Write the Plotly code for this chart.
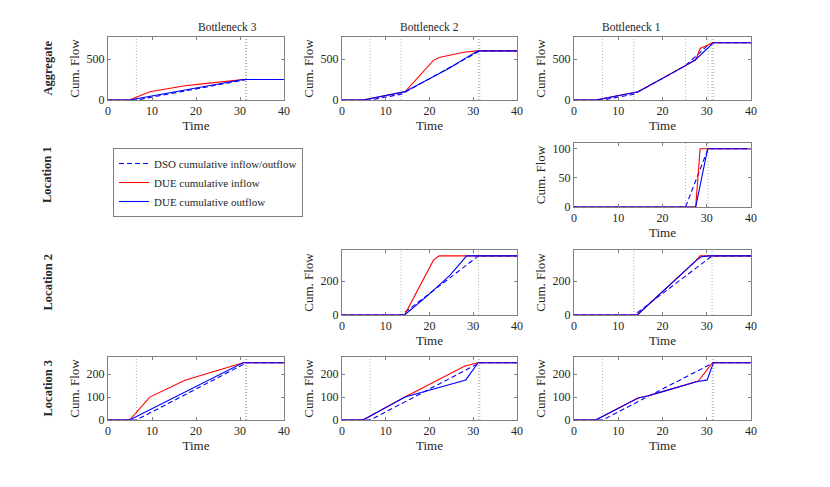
import plotly.graph_objects as go

# ---------------- data ----------------
col_titles = ["Bottleneck 3", "Bottleneck 2", "Bottleneck 1"]
row_titles = ["Aggregate", "Location 1", "Location 2", "Location 3"]
x_ticks = [0, 10, 20, 30, 40]

# Aggregate, Bottleneck 3
agg_b3_red_t = [0, 4.9, 9.5, 17.5, 22, 28.5, 30.7, 40]
agg_b3_red_v = [0, 0, 100, 174, 200, 238, 250, 250]
agg_b3_blue_t = [0, 4.9, 30.7, 40]
agg_b3_blue_v = [0, 0, 250, 250]
agg_b3_dso_t = [0, 6.45, 31.5, 40]
agg_b3_dso_v = [0, 0, 250, 250]
agg_b3_vlines = [6.45, 31.25, 31.5]

# Aggregate, Bottleneck 2
agg_b2_red_t = [0, 4.8, 14.4, 20.9, 22.2, 28.1, 31.1, 40]
agg_b2_red_v = [0, 0, 100, 485, 520, 586, 600, 600]
agg_b2_blue_t = [0, 4.8, 14.4, 19.7, 24.7, 28.3, 31.1, 40]
agg_b2_blue_v = [0, 0, 102, 250, 395, 515, 600, 600]
agg_b2_dso_t = [0, 6.45, 13.6, 31.2, 31.5, 40]
agg_b2_dso_v = [0, 0, 72, 597, 600, 600]
agg_b2_vlines = [6.45, 13.5, 31.2, 31.5]

# Aggregate, Bottleneck 1
agg_b1_red_t = [0, 4.9, 14.5, 20.2, 25.2, 27.5, 28.5, 29.5, 31.3, 40]
agg_b1_red_v = [0, 0, 100, 265, 420, 488, 630, 655, 700, 700]
agg_b1_blue_t = [0, 4.9, 14.5, 20.2, 25.2, 27.5, 29.5, 31.5, 40]
agg_b1_blue_v = [0, 0, 100, 265, 420, 495, 600, 700, 700]
agg_b1_dso_t = [0, 6.45, 13.6, 25.2, 30.3, 31.2, 31.5, 40]
agg_b1_dso_v = [0, 0, 72, 420, 672, 697, 700, 700]
agg_b1_vlines = [6.45, 13.5, 25.2, 30.3, 31.2, 31.5]

# Location 1, Bottleneck 1
l1_b1_red_t = [0, 27.5, 28.5, 40]
l1_b1_red_v = [0, 0, 100, 100]
l1_b1_blue_t = [0, 27.5, 30.2, 40]
l1_b1_blue_v = [0, 0, 100, 100]
l1_dso_t = [0, 25.2, 30.3, 40]
l1_dso_v = [0, 0, 100, 100]
l1_vlines = [25.2, 30.3]

# Location 2, Bottleneck 2
l2_b2_red_t = [0, 14.3, 20.9, 22.2, 40]
l2_b2_red_v = [0, 0, 325, 350, 350]
l2_b2_blue_t = [0, 14.3, 19.7, 24.7, 28.5, 40]
l2_b2_blue_v = [0, 0, 118, 236, 350, 350]
# Location 2, Bottleneck 1
l2_b1_red_t = [0, 14.3, 27.5, 28.5, 40]
l2_b1_red_v = [0, 0, 320, 350, 350]
l2_b1_blue_t = [0, 14.3, 27.7, 28.8, 30.7, 40]
l2_b1_blue_v = [0, 0, 325, 345, 350, 350]
l2_dso_t = [0, 13.6, 31.2, 40]
l2_dso_v = [0, 0, 350, 350]
l2_vlines = [13.5, 31.2]

# Location 3, Bottleneck 3
l3_b3_red_t = [0, 4.9, 9.5, 17.5, 22, 28.5, 30.7, 40]
l3_b3_red_v = [0, 0, 100, 174, 200, 238, 250, 250]
l3_b3_blue_t = [0, 4.9, 30.7, 40]
l3_b3_blue_v = [0, 0, 250, 250]
# Location 3, Bottleneck 2
l3_b2_red_t = [0, 4.8, 14.4, 20, 28.1, 31.1, 40]
l3_b2_red_v = [0, 0, 100, 155, 236, 250, 250]
l3_b2_blue_t = [0, 4.8, 14.4, 19.7, 28.3, 31.1, 40]
l3_b2_blue_v = [0, 0, 100, 129, 175, 250, 250]
# Location 3, Bottleneck 1
l3_b1_red_t = [0, 4.9, 14.5, 16.8, 20.2, 28.1, 31.3, 40]
l3_b1_red_v = [0, 0, 96, 106, 125, 170, 250, 250]
l3_b1_blue_t = [0, 4.9, 14.5, 16.8, 20.2, 27.7, 30.1, 31.5, 40]
l3_b1_blue_v = [0, 0, 96, 106, 125, 167, 175, 250, 250]
l3_dso_t = [0, 6.45, 31.5, 40]
l3_dso_v = [0, 0, 250, 250]
l3_vlines = [6.45, 31.25, 31.5]

agg_yrange = [0, 770]
agg_yticks = [0, 500]
l1_yrange = [0, 110]
l1_yticks = [0, 50, 100]
l2_yrange = [0, 385]
l2_yticks = [0, 200]
l3_yrange = [0, 275]
l3_yticks = [0, 100, 200]

legend_names = ["DSO cumulative inflow/outflow", "DUE cumulative inflow", "DUE cumulative outflow"]

# ---------------- layout geometry ----------------
W, H = 830, 487
OFF = 8  # page body margin offset
col_px = [(108, 284), (342, 517), (574, 751)]
row_px = [(37, 100), (143, 207), (250, 315), (357, 420)]


def px_x(p):
    return (p - OFF) / W


def px_y(p):
    return 1 - (p - OFF) / H


panels = [
    (0, 0, (agg_b3_dso_t, agg_b3_dso_v), (agg_b3_red_t, agg_b3_red_v), (agg_b3_blue_t, agg_b3_blue_v), agg_b3_vlines, agg_yrange, agg_yticks),
    (0, 1, (agg_b2_dso_t, agg_b2_dso_v), (agg_b2_red_t, agg_b2_red_v), (agg_b2_blue_t, agg_b2_blue_v), agg_b2_vlines, agg_yrange, agg_yticks),
    (0, 2, (agg_b1_dso_t, agg_b1_dso_v), (agg_b1_red_t, agg_b1_red_v), (agg_b1_blue_t, agg_b1_blue_v), agg_b1_vlines, agg_yrange, agg_yticks),
    (1, 2, (l1_dso_t, l1_dso_v), (l1_b1_red_t, l1_b1_red_v), (l1_b1_blue_t, l1_b1_blue_v), l1_vlines, l1_yrange, l1_yticks),
    (2, 1, (l2_dso_t, l2_dso_v), (l2_b2_red_t, l2_b2_red_v), (l2_b2_blue_t, l2_b2_blue_v), l2_vlines, l2_yrange, l2_yticks),
    (2, 2, (l2_dso_t, l2_dso_v), (l2_b1_red_t, l2_b1_red_v), (l2_b1_blue_t, l2_b1_blue_v), l2_vlines, l2_yrange, l2_yticks),
    (3, 0, (l3_dso_t, l3_dso_v), (l3_b3_red_t, l3_b3_red_v), (l3_b3_blue_t, l3_b3_blue_v), l3_vlines, l3_yrange, l3_yticks),
    (3, 1, (l3_dso_t, l3_dso_v), (l3_b2_red_t, l3_b2_red_v), (l3_b2_blue_t, l3_b2_blue_v), l3_vlines, l3_yrange, l3_yticks),
    (3, 2, (l3_dso_t, l3_dso_v), (l3_b1_red_t, l3_b1_red_v), (l3_b1_blue_t, l3_b1_blue_v), l3_vlines, l3_yrange, l3_yticks),
]

FONT = "Liberation Serif"
RED = "#ff0000"
BLUE = "#0000ff"
AXC = "#808080"
TXT = "#262626"

fig = go.Figure()
shapes = []
layout_axes = {}

for i, (r, c, dso, red, blue, vl, yr, yt) in enumerate(panels):
    n = i + 1
    xs = "" if n == 1 else str(n)
    xa, ya = "x" + xs, "y" + xs
    first = (i == 0)
    fig.add_trace(go.Scatter(x=dso[0], y=dso[1], mode="lines", xaxis=xa, yaxis=ya,
                             line=dict(color=BLUE, width=1.1, dash="5px,3px"),
                             name=legend_names[0], showlegend=first, legendgroup="dso"))
    fig.add_trace(go.Scatter(x=red[0], y=red[1], mode="lines", xaxis=xa, yaxis=ya,
                             line=dict(color=RED, width=1.1),
                             name=legend_names[1], showlegend=first, legendgroup="red"))
    fig.add_trace(go.Scatter(x=blue[0], y=blue[1], mode="lines", xaxis=xa, yaxis=ya,
                             line=dict(color=BLUE, width=1.1),
                             name=legend_names[2], showlegend=first, legendgroup="blue"))
    for v in vl:
        shapes.append(dict(type="line", xref=xa, yref=ya + " domain", x0=v, x1=v, y0=0, y1=1,
                           line=dict(color="#b4b4b4", width=1, dash="1px,2px"), layer="below"))
    x0, x1 = col_px[c]
    y0, y1 = row_px[r]
    common = dict(showline=True, linecolor=AXC, linewidth=1, mirror="ticks",
                  ticks="inside", ticklen=3, tickcolor=AXC, showgrid=False, zeroline=False,
                  automargin=False,
                  tickfont=dict(family=FONT, size=12, color=TXT))
    layout_axes["xaxis" + xs] = dict(domain=[px_x(x0), px_x(x1)], anchor=ya, range=[0, 40],
                                     tickvals=x_ticks,
                                     title=dict(text="Time", font=dict(family=FONT, size=13, color=TXT), standoff=2),
                                     **common)
    layout_axes["yaxis" + xs] = dict(domain=[px_y(y1), px_y(y0)], anchor=xa, range=yr,
                                     tickvals=yt,
                                     title=dict(text="Cum. Flow", font=dict(family=FONT, size=13, color=TXT), standoff=4),
                                     **common)

annotations = []
for c, t in enumerate(col_titles):
    x0, x1 = col_px[c]
    annotations.append(dict(text=t, x=px_x((x0 + x1) / 2), y=px_y(35), xref="paper", yref="paper",
                            showarrow=False, yanchor="bottom",
                            font=dict(family=FONT, size=11.5, color=TXT)))
for r, t in enumerate(row_titles):
    y0, y1 = row_px[r]
    annotations.append(dict(text="<b>" + t + "</b>", x=px_x(47), y=px_y((y0 + y1) / 2), xref="paper", yref="paper",
                            showarrow=False, textangle=-90, xanchor="center", yanchor="middle",
                            font=dict(family=FONT, size=12.5, color=TXT)))

fig.update_layout(
    width=W, height=H, autosize=False,
    margin=dict(l=0, r=0, t=0, b=0),
    paper_bgcolor="white", plot_bgcolor="white",
    shapes=shapes, annotations=annotations,
    showlegend=True,
    legend=dict(x=px_x(113), y=px_y(148), xanchor="left", yanchor="top",
                bordercolor="#808080", borderwidth=1, bgcolor="white",
                font=dict(family=FONT, size=11, color=TXT),
                tracegroupgap=0, itemwidth=30),
    **layout_axes,
)

fig.write_html("out.html")
